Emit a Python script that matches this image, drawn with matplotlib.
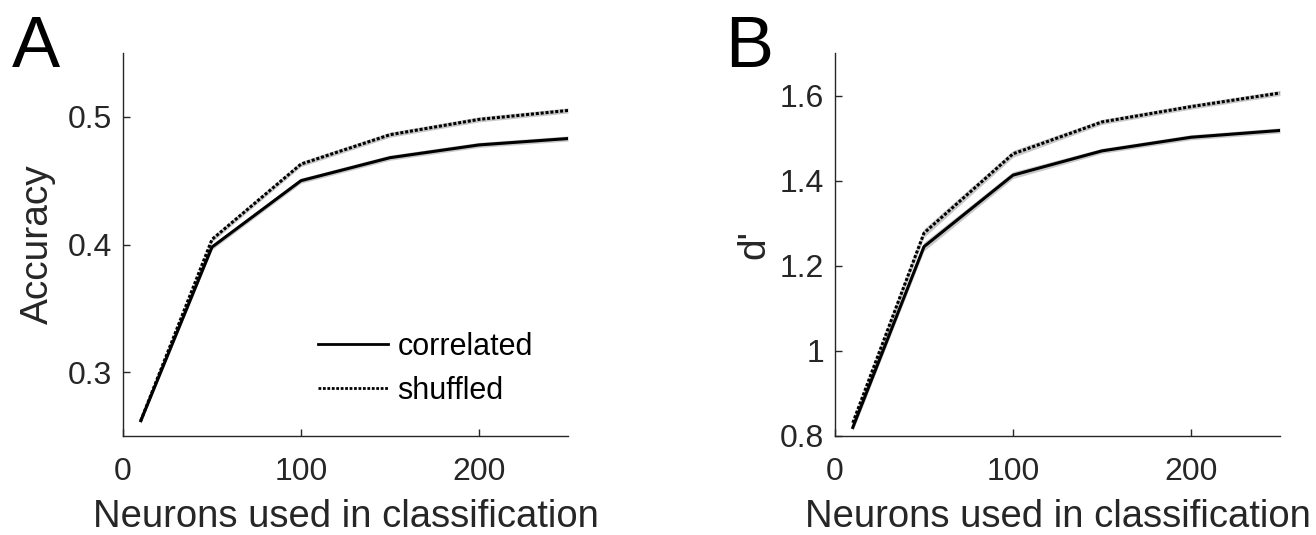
import matplotlib
matplotlib.use("Agg")
import matplotlib.pyplot as plt
import numpy as np

plt.rcParams['font.family'] = ['Liberation Sans', 'DejaVu Sans']

neurons = [10, 50, 100, 150, 200, 250]
acc_corr = [0.262, 0.398, 0.450, 0.468, 0.478, 0.483]
acc_shuf = [0.262, 0.404, 0.463, 0.486, 0.498, 0.505]
acc_err = [0.002, 0.002, 0.002, 0.002, 0.002, 0.002]
d_corr = [0.820, 1.245, 1.413, 1.470, 1.502, 1.518]
d_shuf = [0.831, 1.277, 1.463, 1.538, 1.574, 1.606]
d_err = [0.008, 0.010, 0.008, 0.006, 0.006, 0.006]

xticks = [0, 100, 200]
acc_yticks = [0.3, 0.4, 0.5]
d_yticks = [0.8, 1.0, 1.2, 1.4, 1.6]
d_yticklabels = ['0.8', '1', '1.2', '1.4', '1.6']

fig = plt.figure(figsize=(13.16, 5.35), dpi=100)
W, H = 1316, 535
axA = fig.add_axes([123 / W, 1 - 436 / H, (568 - 123) / W, (436 - 53) / H])
axB = fig.add_axes([835 / W, 1 - 436 / H, (1280 - 835) / W, (436 - 53) / H])

dark = '#262626'

def style(ax):
    for s in ['top', 'right']:
        ax.spines[s].set_visible(False)
    for s in ['left', 'bottom']:
        ax.spines[s].set_color(dark)
        ax.spines[s].set_linewidth(1.0)
    ax.tick_params(direction='in', length=5, width=1.0, colors=dark,
                   labelsize=23)
    ax.tick_params(axis='x', pad=15)
    ax.tick_params(axis='y', pad=8)
    ax.set_xlim(0, 250)
    ax.set_xticks(xticks)
    ax.set_xlabel('Neurons used in classification', fontsize=27.5, color=dark,
                  labelpad=9)

n = np.array(neurons)
# Panel A
a_c = np.array(acc_corr); a_s = np.array(acc_shuf); a_e = np.array(acc_err)
axA.fill_between(n, a_s - a_e, a_s + a_e, color='#c8c8c8', lw=0)
axA.fill_between(n, a_c - a_e, a_c + a_e, color='#c8c8c8', lw=0)
axA.plot(n, a_c, color='black', lw=2.2, label='correlated')
axA.plot(n, a_s, color='black', lw=2.2, ls=(0, (1, 0.6)), label='shuffled')
axA.set_ylim(0.25, 0.55)
axA.set_yticks(acc_yticks)
axA.set_ylabel('Accuracy', fontsize=28, color=dark, labelpad=8)
style(axA)
leg = axA.legend(loc='upper left', frameon=False, fontsize=22,
                 handlelength=2.3, handletextpad=0.3, labelspacing=0.45,
                 borderpad=0, borderaxespad=0,
                 bbox_to_anchor=(318 / W, 1 - 332 / H),
                 bbox_transform=fig.transFigure)
for h in leg.get_lines():
    h.set_linewidth(2.0)

# Panel B
b_c = np.array(d_corr); b_s = np.array(d_shuf); b_e = np.array(d_err)
axB.fill_between(n, b_s - b_e, b_s + b_e, color='#c8c8c8', lw=0)
axB.fill_between(n, b_c - b_e, b_c + b_e, color='#c8c8c8', lw=0)
axB.plot(n, b_c, color='black', lw=2.2)
axB.plot(n, b_s, color='black', lw=2.2, ls=(0, (1, 0.6)))
axB.set_ylim(0.8, 1.7)
axB.set_yticks(d_yticks)
axB.set_yticklabels(d_yticklabels)
axB.set_ylabel("d'", fontsize=28, color=dark, labelpad=5)
style(axB)

fig.text(12 / W, 1 - 67 / H, 'A', fontsize=52, color='black', va='baseline')
fig.text(725 / W, 1 - 67 / H, 'B', fontsize=52, color='black', va='baseline')

fig.savefig('out.png', dpi=100)
